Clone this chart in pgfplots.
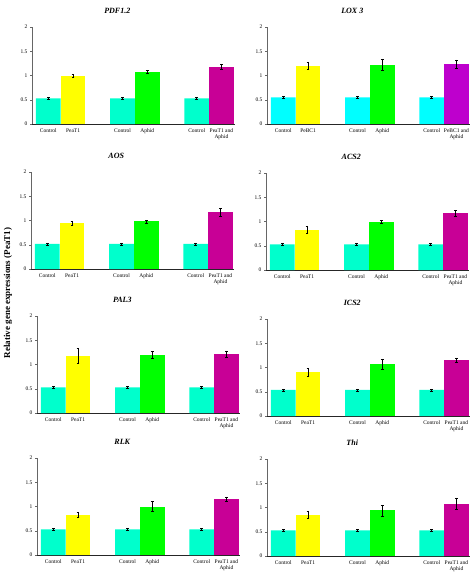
\documentclass[border=0pt]{standalone}
\usepackage{pgfplots}
\pgfplotsset{compat=1.18}
\usepackage{fontspec}
\setmainfont{Liberation Serif}

\definecolor{ctrl}{RGB}{0,255,204}
\definecolor{ctrlcyan}{RGB}{0,255,255}
\definecolor{yel}{RGB}{255,255,0}
\definecolor{grn}{RGB}{0,255,0}
\definecolor{pur}{RGB}{200,0,150}
\definecolor{violet}{RGB}{190,0,205}

\pgfplotsset{
  panel/.style={
    scale only axis,
    width=203pt, height=97pt,
    anchor=south west,
    xmin=-0.66, xmax=7.55,
    ymin=0, ymax=2,
    axis x line=bottom, axis y line=left,
    axis line style={-},
    y axis line style={draw=gray!80!black},
    x axis line style={draw=black!85},
    xtick={0,1,3,4,6,7},
    xtick style={draw=none},
    ytick={0,0.5,1,1.5,2},
    yticklabels={0,0.5,1,1.5,2},
    tick align=outside,
    major tick length=2pt,
    ytick style={draw=gray!80!black, line width=0.4pt},
    tick label style={font=\fontsize{5.5}{6}\selectfont},
    xticklabel style={align=center, yshift=1pt},
    yticklabel style={xshift=1pt},
    /pgf/number format/assume math mode=true,
    title style={at={(0.42,1)}, anchor=south, yshift=4pt,
      font=\fontsize{8}{9}\selectfont\bfseries\itshape},
    clip=false,
  },
  bar/.style={
    ybar, bar width=1, bar shift=0pt, draw=none,
    error bars/y dir=both, error bars/y explicit,
    error bars/error bar style={line width=0.45pt, black},
    error bars/error mark options={rotate=90, mark size=1.3pt, line width=0.45pt, black},
  },
}

\begin{document}
\begin{tikzpicture}
\useasboundingbox (0,0) rectangle (474pt,-576pt);

% PDF1.2
\begin{axis}[panel, at={(32pt,-124pt)}, title={PDF1.2},
  xticklabels={Control,PeaT1,Control,Aphid,Control,{PeaT1 and\\Aphid}}]
\addplot[bar, fill=ctrl] coordinates {(0,0.53) +- (0,0.02) (3,0.53) +- (0,0.02) (6,0.53) +- (0,0.02)};
\addplot[bar, fill=yel] coordinates {(1,0.99) +- (0,0.03)};
\addplot[bar, fill=grn] coordinates {(4,1.08) +- (0,0.03)};
\addplot[bar, fill=pur] coordinates {(7,1.18) +- (0,0.05)};
\end{axis}

% LOX 3
\begin{axis}[panel, at={(267pt,-124pt)}, title={LOX 3},
  xticklabels={Control,PeBC1,Control,Aphid,Control,{PeBC1 and\\Aphid}}]
\addplot[bar, fill=ctrlcyan] coordinates {(0,0.55) +- (0,0.02) (3,0.55) +- (0,0.02) (6,0.55) +- (0,0.02)};
\addplot[bar, fill=yel] coordinates {(1,1.20) +- (0,0.08)};
\addplot[bar, fill=grn] coordinates {(4,1.22) +- (0,0.12)};
\addplot[bar, fill=violet] coordinates {(7,1.24) +- (0,0.08)};
\end{axis}

% AOS
\begin{axis}[panel, at={(31pt,-269pt)}, title={AOS},
  xticklabels={Control,PeaT1,Control,Aphid,Control,{PeaT1 and\\Aphid}}]
\addplot[bar, fill=ctrl] coordinates {(0,0.52) +- (0,0.02) (3,0.52) +- (0,0.02) (6,0.52) +- (0,0.02)};
\addplot[bar, fill=yel] coordinates {(1,0.95) +- (0,0.04)};
\addplot[bar, fill=grn] coordinates {(4,0.98) +- (0,0.03)};
\addplot[bar, fill=pur] coordinates {(7,1.17) +- (0,0.08)};
\end{axis}

% ACS2
\begin{axis}[panel, at={(266pt,-270pt)}, title={ACS2},
  xticklabels={Control,PeaT1,Control,Aphid,Control,{PeaT1 and\\Aphid}}]
\addplot[bar, fill=ctrl] coordinates {(0,0.53) +- (0,0.02) (3,0.53) +- (0,0.02) (6,0.53) +- (0,0.02)};
\addplot[bar, fill=yel] coordinates {(1,0.83) +- (0,0.08)};
\addplot[bar, fill=grn] coordinates {(4,0.99) +- (0,0.03)};
\addplot[bar, fill=pur] coordinates {(7,1.17) +- (0,0.06)};
\end{axis}

% PAL3
\begin{axis}[panel, at={(37pt,-413pt)}, title={PAL3},
  xticklabels={Control,PeaT1,Control,Aphid,Control,{PeaT1 and\\Aphid}}]
\addplot[bar, fill=ctrl] coordinates {(0,0.53) +- (0,0.02) (3,0.53) +- (0,0.02) (6,0.53) +- (0,0.02)};
\addplot[bar, fill=yel] coordinates {(1,1.18) +- (0,0.15)};
\addplot[bar, fill=grn] coordinates {(4,1.20) +- (0,0.07)};
\addplot[bar, fill=pur] coordinates {(7,1.21) +- (0,0.07)};
\end{axis}

% ICS2
\begin{axis}[panel, at={(267pt,-416pt)}, title={ICS2},
  xticklabels={Control,PeaT1,Control,Aphid,Control,{PeaT1 and\\Aphid}}]
\addplot[bar, fill=ctrl] coordinates {(0,0.54) +- (0,0.02) (3,0.54) +- (0,0.02) (6,0.54) +- (0,0.02)};
\addplot[bar, fill=yel] coordinates {(1,0.90) +- (0,0.08)};
\addplot[bar, fill=grn] coordinates {(4,1.07) +- (0,0.10)};
\addplot[bar, fill=pur] coordinates {(7,1.15) +- (0,0.05)};
\end{axis}

% RLK
\begin{axis}[panel, at={(37pt,-555pt)}, title={RLK},
  xticklabels={Control,PeaT1,Control,Aphid,Control,{PeaT1 and\\Aphid}}]
\addplot[bar, fill=ctrl] coordinates {(0,0.53) +- (0,0.02) (3,0.53) +- (0,0.02) (6,0.53) +- (0,0.02)};
\addplot[bar, fill=yel] coordinates {(1,0.83) +- (0,0.05)};
\addplot[bar, fill=grn] coordinates {(4,1.00) +- (0,0.10)};
\addplot[bar, fill=pur] coordinates {(7,1.15) +- (0,0.05)};
\end{axis}

% Thi
\begin{axis}[panel, at={(267pt,-556pt)}, title={Thi},
  xticklabels={Control,PeaT1,Control,Aphid,Control,{PeaT1 and\\Aphid}}]
\addplot[bar, fill=ctrl] coordinates {(0,0.53) +- (0,0.02) (3,0.53) +- (0,0.02) (6,0.53) +- (0,0.02)};
\addplot[bar, fill=yel] coordinates {(1,0.85) +- (0,0.08)};
\addplot[bar, fill=grn] coordinates {(4,0.94) +- (0,0.11)};
\addplot[bar, fill=pur] coordinates {(7,1.08) +- (0,0.12)};
\end{axis}

\node[rotate=90, font=\fontsize{9}{10}\selectfont\bfseries] at (8pt,-293pt)
  {Relative gene expressions (PeaT1)};
\end{tikzpicture}
\end{document}
